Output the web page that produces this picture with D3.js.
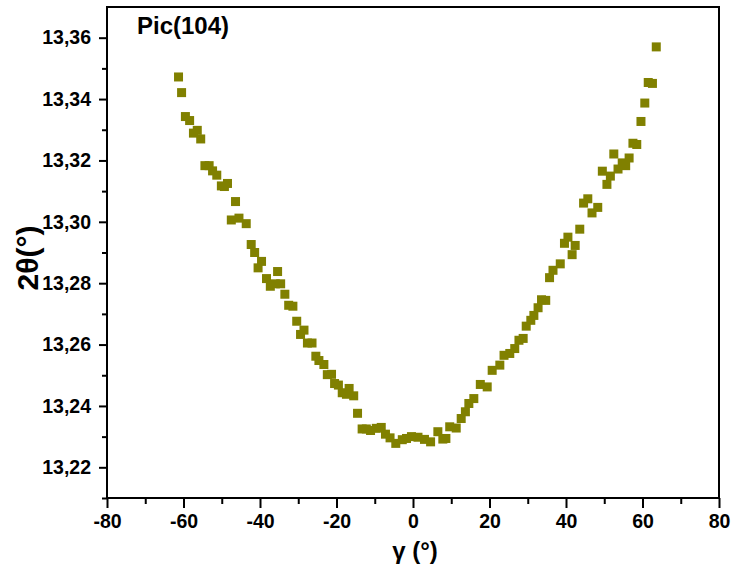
<!DOCTYPE html>
<html>
<head>
<meta charset="utf-8">
<script src="https://cdn.jsdelivr.net/npm/d3@7"></script>
<style>
  html, body { margin: 0; padding: 0; background: #fff; }
  svg { display: block; }
  text { font-family: "Liberation Sans", Arial, sans-serif; font-weight: bold; fill: #000; }
</style>
</head>
<body>
<svg id="chart" width="732" height="566"></svg>
<script>
// ---- data ----
const gamma = [
  -61.3, -60.5, -59.5, -58.4, -57.4, -56.4, -55.5, -54.4, -53.3, -52.4,
  -51.3, -50.1, -49.3, -48.5, -47.5, -46.4, -45.5, -43.6, -42.3, -41.4,
  -40.5, -39.6, -38.3, -37.3, -36.0, -35.4, -34.6, -33.5, -32.5, -31.4,
  -30.4, -29.4, -28.5, -27.6, -26.4, -25.4, -24.6, -23.3, -22.4, -21.3,
  -20.5, -19.5, -18.5, -17.4, -16.7, -15.5, -14.5, -13.3, -12.2, -11.1,
  -9.6, -8.3, -7.2, -6.0, -4.5, -2.8, -1.7, -0.4, 1.3, 3.0,
  4.6, 6.5, 7.8, 8.6, 9.6, 11.3, 12.6, 13.7, 14.6, 15.9,
  17.6, 19.4, 20.7, 22.7, 23.8, 25.3, 26.6, 27.7, 28.8, 29.6,
  30.8, 31.6, 32.7, 33.6, 34.7, 35.7, 36.6, 38.5, 39.6, 40.5,
  41.6, 42.4, 43.6, 44.6, 45.7, 46.8, 48.3, 49.5, 50.7, 51.6,
  52.5, 53.6, 54.7, 55.6, 56.5, 57.5, 58.5, 59.6, 60.6, 61.5,
  62.6, 63.6
];
const twoTheta = [
  13.3472, 13.3421, 13.3343, 13.3330, 13.3289, 13.3298, 13.3270, 13.3183, 13.3183, 13.3166,
  13.3152, 13.3117, 13.3115, 13.3125, 13.3006, 13.3066, 13.3012, 13.2994, 13.2926, 13.2900,
  13.2850, 13.2871, 13.2815, 13.2790, 13.2798, 13.2838, 13.2798, 13.2764, 13.2728, 13.2725,
  13.2676, 13.2633, 13.2647, 13.2605, 13.2605, 13.2562, 13.2548, 13.2535, 13.2502, 13.2503,
  13.2473, 13.2468, 13.2443, 13.2438, 13.2457, 13.2433, 13.2376, 13.2325, 13.2325, 13.2320,
  13.2327, 13.2330, 13.2308, 13.2296, 13.2278, 13.2290, 13.2294, 13.2300, 13.2298, 13.2291,
  13.2283, 13.2316, 13.2292, 13.2294, 13.2332, 13.2328, 13.2359, 13.2381, 13.2408, 13.2424,
  13.2470, 13.2462, 13.2516, 13.2533, 13.2565, 13.2571, 13.2587, 13.2614, 13.2620, 13.2660,
  13.2679, 13.2695, 13.2720, 13.2746, 13.2744, 13.2818, 13.2842, 13.2863, 13.2930, 13.2950,
  13.2893, 13.2923, 13.2976, 13.3061, 13.3075, 13.3029, 13.3047, 13.3165, 13.3122, 13.3149,
  13.3221, 13.3172, 13.3192, 13.3183, 13.3208, 13.3256, 13.3252, 13.3327, 13.3387, 13.3454,
  13.3451, 13.3570
];
const xMajorTicks = [-80, -60, -40, -20, 0, 20, 40, 60, 80];
const xMinorTicks = [-70, -50, -30, -10, 10, 30, 50, 70];
const yMajorTicks = [13.22, 13.24, 13.26, 13.28, 13.30, 13.32, 13.34, 13.36];
const yMinorTicks = [13.21, 13.23, 13.25, 13.27, 13.29, 13.31, 13.33, 13.35];
const xDomain = [-80, 80];
const yDomain = [13.21, 13.37];
const title = "Pic(104)";
const xTitle = "γ (°)";
const yTitle = "2θ(°)";

// ---- layout ----
const L = 107, R = 719, T = 7, B = 498;
const svg = d3.select("#chart");
const x = d3.scaleLinear().domain(xDomain).range([L, R]);
const y = d3.scaleLinear().domain(yDomain).range([B, T]);
const color = "#808000";
const fmtY = v => d3.format(".2f")(v).replace(".", ",");
const fmtX = v => String(v);
const tickFont = 19.5;

// minor ticks
svg.append("g").attr("transform", `translate(0,${B})`)
  .call(d3.axisBottom(x).tickValues(xMinorTicks).tickSize(6).tickFormat(""))
  .call(g => g.select(".domain").remove())
  .call(g => g.selectAll("line").attr("stroke", "#000").attr("stroke-width", 2));
svg.append("g").attr("transform", `translate(${L},0)`)
  .call(d3.axisLeft(y).tickValues(yMinorTicks).tickSize(5).tickFormat(""))
  .call(g => g.select(".domain").remove())
  .call(g => g.selectAll("line").attr("stroke", "#000").attr("stroke-width", 2));

// major ticks + labels
svg.append("g").attr("transform", `translate(0,${B})`)
  .call(d3.axisBottom(x).tickValues(xMajorTicks).tickSize(10).tickPadding(6).tickFormat(fmtX))
  .call(g => g.select(".domain").remove())
  .call(g => g.selectAll("line").attr("stroke", "#000").attr("stroke-width", 2))
  .call(g => g.selectAll("text").attr("font-size", tickFont).attr("font-family", "Liberation Sans, Arial, sans-serif").attr("font-weight", "bold").attr("fill", "#000"));
svg.append("g").attr("transform", `translate(${L},0)`)
  .call(d3.axisLeft(y).tickValues(yMajorTicks).tickSize(8).tickPadding(8).tickFormat(fmtY))
  .call(g => g.select(".domain").remove())
  .call(g => g.selectAll("line").attr("stroke", "#000").attr("stroke-width", 2))
  .call(g => g.selectAll("text").attr("font-size", tickFont).attr("font-family", "Liberation Sans, Arial, sans-serif").attr("font-weight", "bold").attr("fill", "#000"));

// frame
svg.append("rect").attr("x", L).attr("y", T).attr("width", R - L).attr("height", B - T)
  .attr("fill", "none").attr("stroke", "#000").attr("stroke-width", 2);

// points
const pts = gamma.map((g, i) => ({ g, t: twoTheta[i] }));
const s = 9;
svg.append("g").selectAll("rect").data(pts).join("rect")
  .attr("x", d => x(d.g) - s / 2).attr("y", d => y(d.t) - s / 2)
  .attr("width", s).attr("height", s)
  .attr("fill", color);

// titles
svg.append("text").attr("x", 137).attr("y", 34).attr("font-size", 24).text(title);
svg.append("text").attr("x", x(0) + 2).attr("y", 559).attr("text-anchor", "middle").attr("font-size", 24).text(xTitle);
svg.append("text").attr("transform", `translate(38,${258}) rotate(-90)`).attr("text-anchor", "middle").attr("font-size", 30).text(yTitle);
</script>
</body>
</html>
